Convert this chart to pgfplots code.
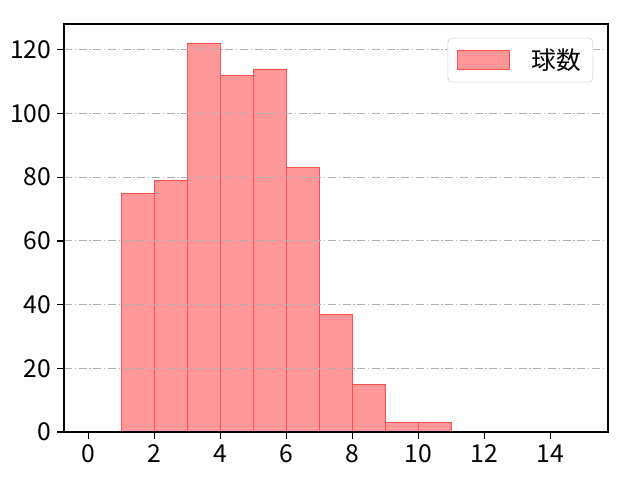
\documentclass[border=0pt]{standalone}
\usepackage{pgfplots}
\pgfplotsset{compat=1.18}
\usepackage{fontspec}
\setmainfont{Noto Sans CJK JP}
\definecolor{barfill}{HTML}{FF9999}
\definecolor{baredge}{HTML}{FF4D4D}
\definecolor{gridc}{HTML}{B0B0B0}
\begin{document}
\begin{tikzpicture}[x=1pt,y=1pt]
\useasboundingbox (-48,-36) rectangle (432,324);
\begin{axis}[
  at={(0,0)}, anchor=south west,
  scale only axis,
  width=408pt, height=306pt,
  xmin=-0.75, xmax=15.75,
  ymin=0, ymax=128.1,
  xtick={0,2,...,14},
  ytick={0,20,...,120},
  tick align=outside,
  tick pos=left,
  major tick length=5pt,
  tick style={line width=1.0pt, black},
  axis line style={line width=1.2pt},
  ymajorgrids,
  grid style={gridc, line width=0.7pt, dash pattern=on 6pt off 2pt on 1pt off 2pt},
  axis on top,
  /pgf/number format/assume math mode=true,
  tick label style={font=\fontsize{18.5}{21}\selectfont},
  xticklabel style={yshift=-1pt},
  yticklabel style={xshift=-1pt},
  legend style={at={(0.9725,0.966)}, anchor=north east, draw=gridc!60, rounded corners=3pt,
    font=\fontsize{18.5}{21}\selectfont, inner xsep=7pt, inner ysep=6pt},
  legend image code/.code={\draw[#1, sharp corners] (0pt,-7pt) rectangle (39pt,7pt);},
  legend cell align=left,
]
\addplot[ybar interval, fill=barfill, draw=baredge, line width=0.6pt] coordinates {
(1,75) (2,79) (3,122) (4,112) (5,114) (6,83) (7,37) (8,15) (9,3) (10,3) (11,3)
};
\addlegendentry{\hspace{14pt}球数}
\end{axis}
\end{tikzpicture}
\end{document}
